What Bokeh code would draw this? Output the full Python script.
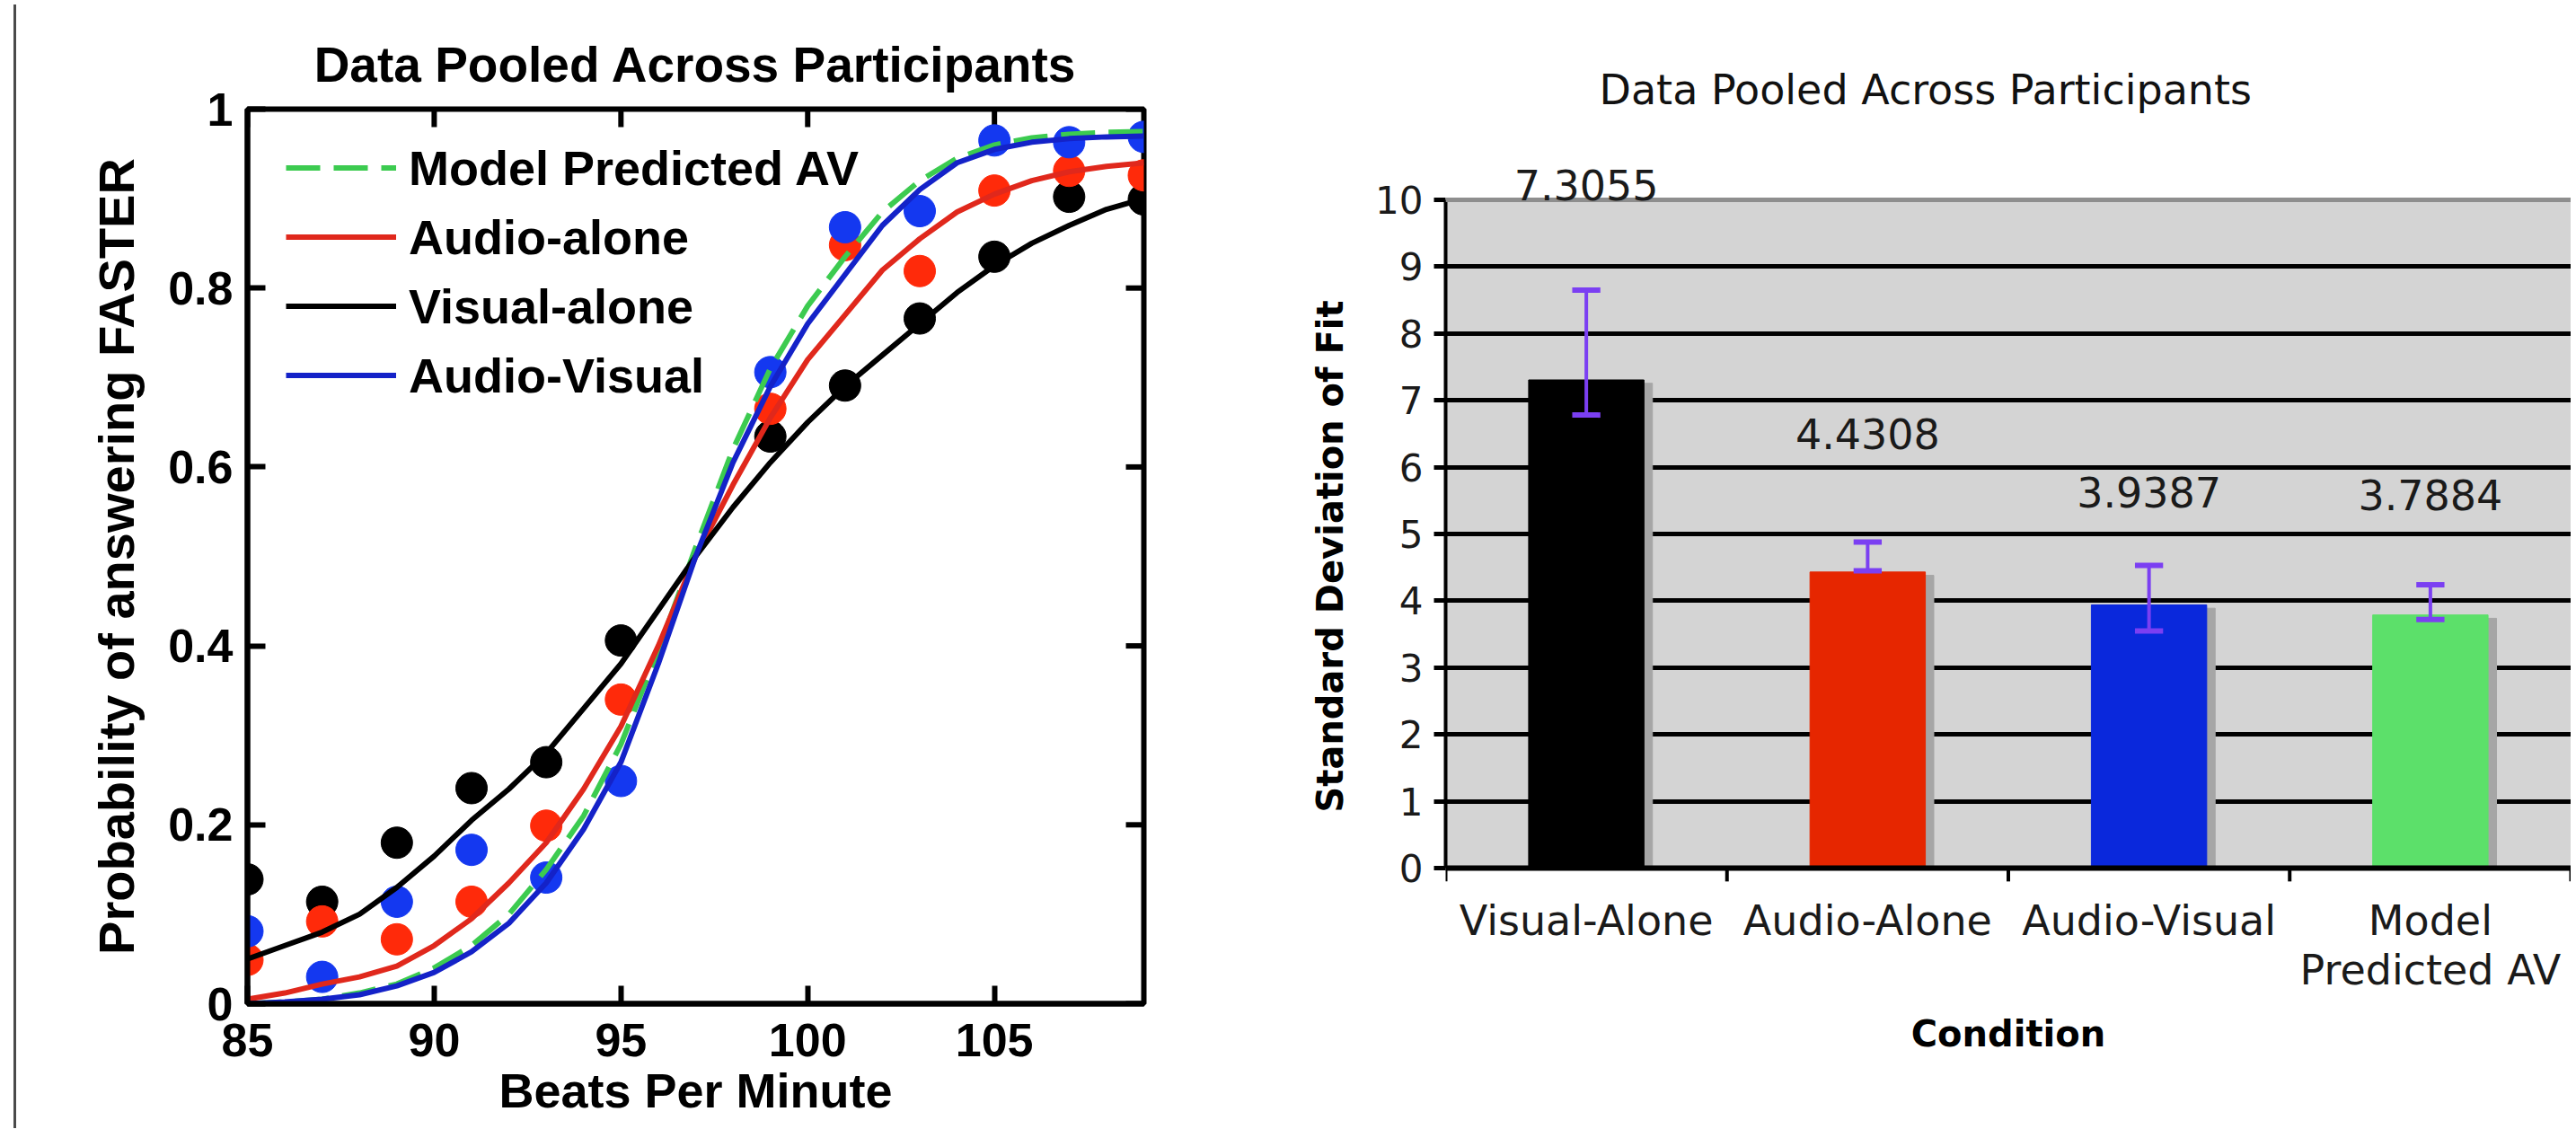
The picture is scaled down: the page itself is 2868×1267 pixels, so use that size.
from bokeh.plotting import figure
from bokeh.models import (ColumnDataSource, Legend, LegendItem, LinearAxis, FixedTicker,
                          Range1d, LabelSet, Span, Div, Grid, BoxAnnotation)
from bokeh.core.properties import value
from bokeh.layouts import row
from bokeh.embed import file_html
from bokeh.resources import INLINE

# ---------------- left chart data ----------------
bpm_fit = [85, 86, 87, 88, 89, 90, 91, 92, 93, 94, 95, 96, 97,
           98, 99, 100, 101, 102, 103, 104, 105, 106, 107, 108, 109]
fit_model_av = [0.0, 0.002, 0.005, 0.012, 0.022, 0.04, 0.065, 0.10, 0.15, 0.21, 0.29, 0.395, 0.51,
                0.62, 0.71, 0.78, 0.835, 0.885, 0.92, 0.945, 0.96, 0.968, 0.972, 0.974, 0.975]
fit_audio = [0.005, 0.012, 0.022, 0.03, 0.042, 0.065, 0.095, 0.135, 0.18, 0.24, 0.31, 0.40, 0.50,
             0.58, 0.655, 0.72, 0.77, 0.82, 0.855, 0.885, 0.905, 0.92, 0.93, 0.936, 0.94]
fit_visual = [0.05, 0.065, 0.08, 0.10, 0.13, 0.165, 0.205, 0.24, 0.28, 0.33, 0.38, 0.44, 0.50,
              0.555, 0.605, 0.65, 0.69, 0.725, 0.76, 0.795, 0.825, 0.85, 0.87, 0.888, 0.90]
fit_av = [0.0, 0.002, 0.005, 0.01, 0.02, 0.035, 0.058, 0.09, 0.135, 0.195, 0.27, 0.38, 0.50,
          0.605, 0.69, 0.76, 0.815, 0.87, 0.91, 0.94, 0.955, 0.963, 0.967, 0.969, 0.97]

bpm_obs = [85, 87, 89, 91, 93, 95, 99, 101, 103, 105, 107, 109]
obs_visual = [0.139, 0.114, 0.180, 0.241, 0.270, 0.406, 0.634, 0.691, 0.766, 0.835, 0.902, 0.899]
obs_audio = [0.049, 0.092, 0.072, 0.114, 0.199, 0.340, 0.665, 0.848, 0.819, 0.909, 0.931, 0.926]
obs_av = [0.081, 0.030, 0.114, 0.172, 0.141, 0.249, 0.706, 0.868, 0.886, 0.965, 0.963, 0.969]

x_ticks_left = [85, 90, 95, 100, 105]
y_ticks_left = [0, 0.2, 0.4, 0.6, 0.8, 1]
y_tick_labels_left = ["0", "0.2", "0.4", "0.6", "0.8", "1"]

# ---------------- right chart data ----------------
cat_line1 = ["Visual-Alone", "Audio-Alone", "Audio-Visual", "Model"]
cat_line2 = ["", "", "", "Predicted AV"]
sd_values = [7.3055, 4.4308, 3.9387, 3.7884]
err_low = [6.78, 4.45, 3.55, 3.72]
err_high = [8.65, 4.88, 4.53, 4.24]
value_label_y = [10.22, 6.50, 5.63, 5.58]
bar_colors = ["#000000", "#E62600", "#0A28DC", "#5CE06A"]
y_ticks_right = [0, 1, 2, 3, 4, 5, 6, 7, 8, 9, 10]

HELV = "Liberation Sans"
VERD = "DejaVu Sans"
TOP_B, BOT_B = 121, 134

# ================= LEFT FIGURE =================
X0, X1, Y0, Y1 = 85, 109, 0, 1
p1 = figure(width=1379, height=1251, x_range=Range1d(X0, X1), y_range=Range1d(Y0, Y1),
            output_backend="svg", toolbar_location=None,
            x_axis_location=None, y_axis_location=None,
            min_border_left=252, min_border_right=129, min_border_top=TOP_B, min_border_bottom=BOT_B)
p1.grid.visible = False
p1.background_fill_color = "white"
p1.border_fill_color = "white"
p1.outline_line_color = "black"
p1.outline_line_width = 6
p1.title.text = "Data Pooled Across Participants"
p1.title.align = "center"
p1.title.text_font = HELV
p1.title.text_font_size = "55px"
p1.title.text_font_style = "bold"
p1.title.text_color = "black"
p1.title.standoff = 38

def style_axis(ax):
    ax.axis_line_width = 6
    ax.axis_line_color = "black"
    ax.major_tick_in = 20
    ax.major_tick_out = 0
    ax.major_tick_line_width = 6
    ax.minor_tick_line_color = None
    ax.major_label_text_font = HELV
    ax.major_label_text_font_size = "52px"
    ax.major_label_text_font_style = "bold"
    ax.major_label_text_color = "black"

xb = LinearAxis(ticker=FixedTicker(ticks=x_ticks_left))
style_axis(xb)
xb.major_label_standoff = 22
xb.axis_label = "Beats Per Minute"
xb.axis_label_text_font = HELV
xb.axis_label_text_font_size = "54px"
xb.axis_label_text_font_style = "bold"
xb.axis_label_text_color = "black"
xb.axis_label_standoff = 5
p1.add_layout(xb, "below")

yl = LinearAxis(ticker=FixedTicker(ticks=y_ticks_left),
                major_label_overrides=dict(zip(y_ticks_left, y_tick_labels_left)))
style_axis(yl)
yl.major_label_standoff = 16
yl.axis_label = "Probability of answering FASTER"
yl.axis_label_text_font = HELV
yl.axis_label_text_font_size = "56px"
yl.axis_label_text_font_style = "bold"
yl.axis_label_text_color = "black"
yl.axis_label_standoff = 23
p1.add_layout(yl, "left")

# inward ticks on the top and right frame edges
top_t = ColumnDataSource(dict(x=x_ticks_left, y0=[Y1] * len(x_ticks_left),
                              y1=[Y1 - 0.02] * len(x_ticks_left)))
p1.segment(x0="x", y0="y0", x1="x", y1="y1", source=top_t, line_color="black", line_width=6)
right_t = ColumnDataSource(dict(y=y_ticks_left, x0=[X1] * len(y_ticks_left),
                                x1=[X1 - 0.48] * len(y_ticks_left)))
p1.segment(x0="x0", y0="y", x1="x1", y1="y", source=right_t, line_color="black", line_width=6)

src_obs = ColumnDataSource(dict(x=bpm_obs, v=obs_visual, a=obs_audio, av=obs_av))
p1.scatter("x", "v", source=src_obs, size=35, color="black")
p1.scatter("x", "a", source=src_obs, size=35, color="#FF2A0A")
p1.scatter("x", "av", source=src_obs, size=35, color="#1438F0")

src_fit = ColumnDataSource(dict(x=bpm_fit, m=fit_model_av, a=fit_audio, v=fit_visual, av=fit_av))
r_m = p1.line("x", "m", source=src_fit, line_color="#3CCB50", line_width=6, line_dash="38 15")
r_a = p1.line("x", "a", source=src_fit, line_color="#E0281C", line_width=6)
r_v = p1.line("x", "v", source=src_fit, line_color="black", line_width=6)
r_av = p1.line("x", "av", source=src_fit, line_color="#1422C8", line_width=6)

legend = Legend(items=[LegendItem(label="Model Predicted AV", renderers=[r_m]),
                       LegendItem(label="Audio-alone", renderers=[r_a]),
                       LegendItem(label="Visual-alone", renderers=[r_v]),
                       LegendItem(label="Audio-Visual", renderers=[r_av])],
                location=(43, 667))
legend.border_line_color = None
legend.background_fill_alpha = 0
legend.padding = 0
legend.margin = 0
legend.glyph_width = 123
legend.glyph_height = 65
legend.label_height = 65
legend.spacing = 12
legend.label_standoff = 14
legend.label_text_font = HELV
legend.label_text_font_size = "54px"
legend.label_text_font_style = "bold"
legend.label_text_color = "black"
p1.add_layout(legend, "center")

# ================= RIGHT FIGURE =================
n_cat = len(cat_line1)
xs = [i + 0.5 for i in range(n_cat)]
bounds_x = [i for i in range(n_cat + 1)]
p2 = figure(width=1460, height=1251, x_range=Range1d(0, 4), y_range=Range1d(-2.030, 11.358),
            output_backend="svg", toolbar_location=None,
            x_axis_location=None, y_axis_location=None,
            min_border_left=207, min_border_right=0, min_border_top=TOP_B, min_border_bottom=BOT_B)
p2.grid.visible = False
p2.background_fill_color = "white"
p2.border_fill_color = "white"
p2.outline_line_color = None
p2.title.text = "Data Pooled Across Participants"
p2.title.align = "left"
p2.title.offset = 171
p2.title.text_font = VERD
p2.title.text_font_size = "46px"
p2.title.text_font_style = "normal"
p2.title.text_color = "#111111"
p2.title.standoff = -11

p2.add_layout(BoxAnnotation(left=0, right=4, bottom=0, top=10, fill_color="#D4D4D4",
                            fill_alpha=1, line_color=None, level="underlay"))
p2.add_layout(Grid(dimension=1, ticker=FixedTicker(ticks=[1, 2, 3, 4, 5, 6, 7, 8, 9]),
                   grid_line_color="black", grid_line_width=5))
p2.add_layout(Span(location=10, dimension="width", line_color="#8E8E8E", line_width=5))

y2 = LinearAxis(ticker=FixedTicker(ticks=y_ticks_right), bounds=(0, 10))
y2.axis_line_width = 4
y2.major_tick_out = 13
y2.major_tick_in = 0
y2.major_tick_line_width = 5
y2.minor_tick_line_color = None
y2.major_label_text_font = VERD
y2.major_label_text_font_size = "42px"
y2.major_label_text_color = "#1a1a1a"
y2.major_label_standoff = 12
y2.axis_label = "Standard Deviation of Fit"
y2.axis_label_text_font = VERD
y2.axis_label_text_font_size = "40px"
y2.axis_label_text_font_style = "bold"
y2.axis_label_text_color = "black"
y2.axis_label_standoff = 24
p2.add_layout(y2, "left")

xc = LinearAxis(ticker=FixedTicker(ticks=[]))
xc.axis_line_color = None
xc.major_tick_line_color = None
xc.minor_tick_line_color = None
xc.major_tick_out = 0
xc.major_label_standoff = 0
xc.axis_label = "Condition"
xc.axis_label_text_font = VERD
xc.axis_label_text_font_size = "40px"
xc.axis_label_text_font_style = "bold"
xc.axis_label_text_color = "black"
xc.axis_label_standoff = 10
p2.add_layout(xc, "below")

src_bar = ColumnDataSource(dict(x=xs, xsh=[x + 0.03 for x in xs], top=sd_values,
                                topsh=[v - 0.05 for v in sd_values], color=bar_colors,
                                lo=err_low, hi=err_high,
                                x0=[x - 0.05 for x in xs], x1=[x + 0.05 for x in xs],
                                ly=value_label_y, txt=[f"{v:.4f}" for v in sd_values],
                                c1=cat_line1, c2=cat_line2,
                                c1y=[-0.78] * n_cat, c2y=[-1.52] * n_cat))
p2.vbar(x="xsh", top="topsh", width=0.41, source=src_bar, color="#A6A6A6")
p2.vbar(x="x", top="top", width=0.41, source=src_bar, color="color")

# category axis line at zero and boundary ticks
p2.add_layout(Span(location=0, dimension="width", line_color="black", line_width=6))
src_tick = ColumnDataSource(dict(x=bounds_x, y0=[0] * len(bounds_x), y1=[-0.2] * len(bounds_x)))
p2.segment(x0="x", y0="y0", x1="x", y1="y1", source=src_tick, line_color="black", line_width=4)

ERR = "#7B3FF2"
p2.segment(x0="x", y0="lo", x1="x", y1="hi", source=src_bar, line_color=ERR, line_width=4)
p2.segment(x0="x0", y0="hi", x1="x1", y1="hi", source=src_bar, line_color=ERR, line_width=6)
p2.segment(x0="x0", y0="lo", x1="x1", y1="lo", source=src_bar, line_color=ERR, line_width=6)

p2.add_layout(LabelSet(x="x", y="ly", text="txt", source=src_bar, text_align="center",
                       text_baseline="middle", text_font=value(VERD), text_font_size="46px",
                       text_color="#1a1a1a"))
p2.add_layout(LabelSet(x="x", y="c1y", text="c1", source=src_bar, text_align="center",
                       text_baseline="middle", text_font=value(VERD), text_font_size="46px",
                       text_color="#1a1a1a"))
p2.add_layout(LabelSet(x="x", y="c2y", text="c2", source=src_bar, text_align="center",
                       text_baseline="middle", text_font=value(VERD), text_font_size="46px",
                       text_color="#1a1a1a"))

edge = Div(text="", width=13, height=1251,
           styles={"border-right": "3px solid #4a4a4a", "box-sizing": "border-box"})

layout = row(edge, p1, p2)
open("out.html", "w").write(file_html(layout, INLINE))
